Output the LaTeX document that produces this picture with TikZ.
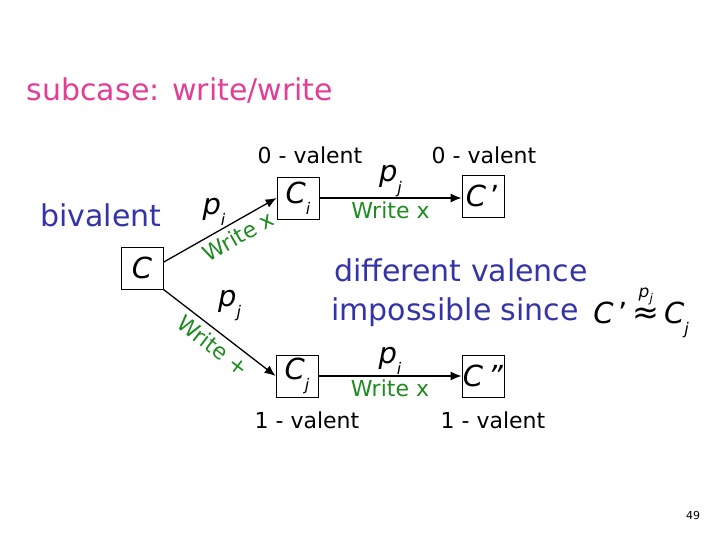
\documentclass[tikz,border=0pt]{standalone}
\usepackage{amsmath}
\usepackage{fontspec}
\setmainfont{DejaVu Sans}
\usetikzlibrary{arrows.meta,positioning}

\definecolor{titlepink}{RGB}{226,62,150}
\definecolor{textblue}{RGB}{52,52,168}
\definecolor{writegreen}{RGB}{30,140,30}

\newcommand{\fsz}[1]{\fontsize{#1}{#1}\selectfont}
\newcommand{\sbs}[1]{\raisebox{-0.7ex}{\fsz{16}\textit{#1}}}

\tikzset{
  config/.style={draw, line width=0.8pt, minimum size=42pt, inner sep=0pt, font=\fsz{29}},
  move/.style={-{Latex[length=11pt,width=9pt]}, line width=1.3pt},
  proc/.style={font=\fsz{29}, inner sep=1pt},
  wr/.style={text=writegreen, font=\fsz{22}, inner sep=2pt},
  valence/.style={font=\fsz{22}},
  remark/.style={text=textblue, font=\fsz{30}}
}

\begin{document}
\begin{tikzpicture}[x=1pt,y=-1pt]
   \useasboundingbox (0,0) rectangle (720,540);
   \node[text=titlepink, font=\fsz{30}] (title) at (180,90) {subcase: write/write};
   \node[remark] (biv) at (101,215) {bivalent};

   \node[config] (c)   at (142,268) {\textit{C}};
   \node[config] (ci)  at (298,198) {\textit{C}\sbs{i}};
   \node[config] (cp)  at (483,196) {\textit{C}\,'};
   \node[config] (cj)  at (297,376) {\textit{C}\sbs{j}};
   \node[config] (cpp) at (483,376) {\textit{C\,"}};

   \node[valence] (zeroi) at (310,155) {0 - valent};
   \node[valence] (zerop) at (484,155) {0 - valent};
   \node[valence] (onej)  at (307,420) {1 - valent};
   \node[valence] (onepp) at (493,420) {1 - valent};

   \draw[move] (c.15) -- node[proc, above=3pt, xshift=-6pt] {\textit{p}\sbs{i}}
                         node[wr, sloped, below=3pt, pos=0.6] {Write x} (ci.west);
   \draw[move] (c.south east) -- node[proc, above right, yshift=10pt, xshift=-3pt] {\textit{p}\sbs{j}}
                                 node[wr, sloped, below=3pt, pos=0.52] {Write +} (cj.west);
   \draw[move] (ci.east) -- node[proc, above] {\textit{p}\sbs{j}}
                            node[wr, below=1pt] {Write x} (ci.east -| cp.west);
   \draw[move] (cj.east) -- node[proc, above] {\textit{p}\sbs{i}}
                            node[wr, below=1pt] {Write x} (cj.east -| cpp.west);

   \node[remark] (diff) at (461,270) {different valence};
   \node[remark] (imp)  at (455,312) {impossible since};
   \node[font=\fsz{29}] (same) at (641,312)
      {\textit{C}\,'\,$\overset{\text{\fsz{17}\textit{p}\raisebox{-0.5ex}{\fsz{12}\textit{j}}}}{\text{\fsz{32}≈}}$\,\textit{C}\sbs{j}};

   \node[font=\fsz{11}] (page) at (693,515) {49};
\end{tikzpicture}
\end{document}
